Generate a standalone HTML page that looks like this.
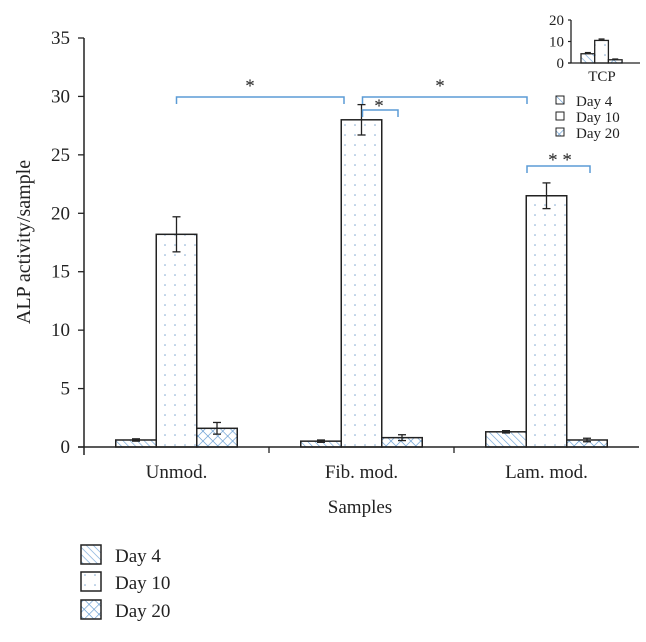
<!DOCTYPE html>
<html><head><meta charset="utf-8"><style>
body{margin:0;background:#fff}
svg text{font-family:"Liberation Serif",serif;fill:#222}
</style></head><body>
<svg id="chart" width="646" height="637">
<defs>
<pattern id="p4" width="5" height="5" patternUnits="userSpaceOnUse" patternTransform="rotate(-45)"><rect width="5" height="5" fill="#fff"/><line x1="0" y1="0" x2="0" y2="5" stroke="#6fa3d6" stroke-width="1.3"/></pattern>
<pattern id="p10" width="10" height="10" patternUnits="userSpaceOnUse"><rect width="10" height="10" fill="#fff"/><circle cx="5" cy="5" r="0.8" fill="#7fa8d2"/></pattern>
<pattern id="p20" width="7" height="7" patternUnits="userSpaceOnUse" patternTransform="rotate(45)"><rect width="7" height="7" fill="#fff"/><line x1="0" y1="0" x2="0" y2="7" stroke="#5f98d0" stroke-width="1.3"/><line x1="0" y1="0" x2="7" y2="0" stroke="#5f98d0" stroke-width="1.3"/></pattern>
</defs>
<g id="main"></g>
<text x="30" y="242" font-size="20" text-anchor="middle" transform="rotate(-90 30 242)">ALP activity/sample</text>
<text x="360" y="513" font-size="19" text-anchor="middle">Samples</text>
<g>
<rect x="81" y="545" width="20" height="19" fill="url(#p4)" stroke="#222" stroke-width="1.5"/>
<text x="115" y="562" font-size="19">Day 4</text>
<rect x="81" y="572" width="20" height="19" fill="url(#p10)" stroke="#222" stroke-width="1.5"/>
<text x="115" y="589" font-size="19">Day 10</text>
<rect x="81" y="600" width="20" height="19" fill="url(#p20)" stroke="#222" stroke-width="1.5"/>
<text x="115" y="617" font-size="19">Day 20</text>
</g>
<g>
<rect x="556" y="96" width="8" height="8" fill="url(#p4)" stroke="#222"/>
<text x="576" y="106" font-size="15">Day 4</text>
<rect x="556" y="112" width="8" height="8" fill="url(#p10)" stroke="#222"/>
<text x="576" y="122" font-size="15">Day 10</text>
<rect x="556" y="128" width="8" height="8" fill="url(#p20)" stroke="#222"/>
<text x="576" y="138" font-size="15">Day 20</text>
</g>
</svg>
<script>
const categories=["Unmod.","Fib. mod.","Lam. mod."];
const day4=[0.6,0.5,1.3];
const day4Err=[0.1,0.1,0.1];
const day10=[18.2,28.0,21.5];
const day10Err=[1.5,1.3,1.1];
const day20=[1.6,0.8,0.6];
const day20Err=[0.5,0.25,0.15];
const yTicks=[0,5,10,15,20,25,30,35];
const insetValues=[4.3,10.5,1.5];
const insetErr=[0.5,0.6,0.3];
const insetTicks=[0,10,20];

const NS="http://www.w3.org/2000/svg";
const g=document.getElementById('main');
function mk(tag,attrs,parent){const e=document.createElementNS(NS,tag);for(const k in attrs)e.setAttribute(k,attrs[k]);(parent||g).appendChild(e);return e;}
const x0=84,x1=639,y0=447,yTop=38,yMax=35;
const y=v=>y0-(v/yMax)*(y0-yTop);
const catW=(x1-x0)/categories.length;
const cx=i=>x0+catW*(i+0.5);
const bw=40.5;
const series=[[day4,day4Err,'p4','day4'],[day10,day10Err,'p10','day10'],[day20,day20Err,'p20','day20']];
function errBar(x,v,e,cap){
  let l=mk('line',{x1:x,x2:x,y1:y(v+e),y2:y(v-e),stroke:'#222','stroke-width':1.3});
  
  
  mk('line',{x1:x-cap,x2:x+cap,y1:y(v+e),y2:y(v+e),stroke:'#222','stroke-width':1.3});
  mk('line',{x1:x-cap,x2:x+cap,y1:y(v-e),y2:y(v-e),stroke:'#222','stroke-width':1.3});
}
categories.forEach((c,i)=>{
  series.forEach((s,j)=>{
    const bx=cx(i)+(j-1.5)*bw;
    const r=mk('rect',{x:bx,y:y(s[0][i]),width:bw,height:y0-y(s[0][i]),fill:'url(#'+s[2]+')',stroke:'#222','stroke-width':1.5});
    
    
    errBar(bx+bw/2,s[0][i],s[1][i],4);
  });
  const t=mk('text',{x:cx(i),y:478,'font-size':19,'text-anchor':'middle'});
  t.textContent=c;
  
  
});
const ax=mk('line',{x1:x0,x2:x0,y1:yTop,y2:y0+8,stroke:'#222','stroke-width':1.5});


const bx=mk('line',{x1:x0-6,x2:x1,y1:y0,y2:y0,stroke:'#222','stroke-width':1.5});


for(let i=1;i<categories.length;i++)mk('line',{x1:x0+catW*i,x2:x0+catW*i,y1:y0,y2:y0+6,stroke:'#222','stroke-width':1.3});
yTicks.forEach(v=>{
  mk('line',{x1:x0-6,x2:x0,y1:y(v),y2:y(v),stroke:'#222','stroke-width':1.3});
  const t=mk('text',{x:x0-14,y:y(v)+6,'font-size':19,'text-anchor':'end'});
  t.textContent=v;
  
  
});
function bracket(xa,xb,yy,h,label,lx,ly){
  const p=mk('path',{d:`M${xa},${yy+h}V${yy}H${xb}V${yy+h}`,fill:'none',stroke:'#5b9bd5','stroke-width':1.5});
  
  
  const t=mk('text',{x:lx,y:ly,'font-size':19,'text-anchor':'middle'});
  t.textContent=label;
  
  
}
const fibC=cx(1);
bracket(cx(0),344,97,7,'*',250,92);
bracket(fibC+1,398,110,7,'*',379,112);
bracket(fibC+1,527,97,7,'*',440,92);
bracket(527,590,166,7,'* *',560,166);
const ix0=571,ix1=640,iy0=63,iy1=20,iMax=20;
const iy=v=>iy0-(v/iMax)*(iy0-iy1);
const iw=13.7;
insetValues.forEach((v,j)=>{
  const bxx=581+j*iw;
  const r=mk('rect',{x:bxx,y:iy(v),width:iw,height:iy0-iy(v),fill:'url(#'+series[j][2]+')',stroke:'#222','stroke-width':1.3});
  
  
  const xm=bxx+iw/2;
  mk('line',{x1:xm-3,x2:xm+3,y1:iy(v+insetErr[j]),y2:iy(v+insetErr[j]),stroke:'#222','stroke-width':1.5});
});
mk('line',{x1:ix0,x2:ix0,y1:iy1,y2:iy0,stroke:'#222','stroke-width':1.3});
mk('line',{x1:ix0-3,x2:ix1,y1:iy0,y2:iy0,stroke:'#222','stroke-width':1.3});
insetTicks.forEach(v=>{
  mk('line',{x1:ix0-3,x2:ix0,y1:iy(v),y2:iy(v),stroke:'#222','stroke-width':1.2});
  const t=mk('text',{x:ix0-7,y:iy(v)+5,'font-size':15,'text-anchor':'end'});
  t.textContent=v;
  
  
});
const tt=mk('text',{x:602,y:81,'font-size':15,'text-anchor':'middle'});
tt.textContent='TCP';


</script>
</body></html>
